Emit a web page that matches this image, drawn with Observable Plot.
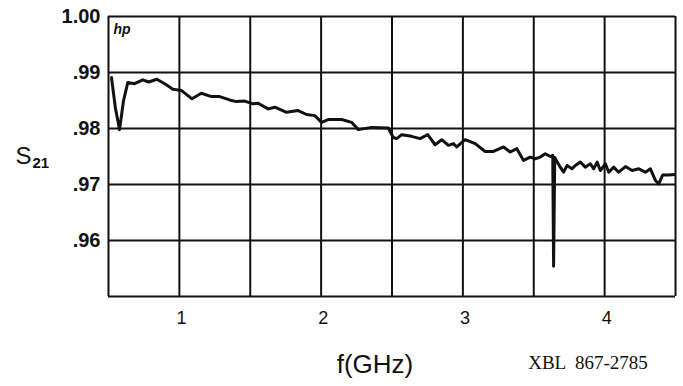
<!DOCTYPE html>
<html>
<head>
<meta charset="utf-8">
<script src="https://cdn.jsdelivr.net/npm/d3@7"></script>
<script src="https://cdn.jsdelivr.net/npm/@observablehq/plot@0.6"></script>
<style>
  html, body { margin: 0; padding: 0; background: #fff; }
  #chart { width: 683px; height: 386px; overflow: hidden; }
</style>
</head>
<body>
<div id="chart"></div>
<script>
// Frequency (GHz) and S21 magnitude
const freq = [0.521, 0.549, 0.578, 0.606, 0.636, 0.684, 0.742, 0.783, 0.841, 0.908,
  0.954, 1.014, 1.089, 1.155, 1.226, 1.284, 1.355, 1.402, 1.461, 1.520,
  1.555, 1.626, 1.673, 1.756, 1.838, 1.897, 1.956, 2.003, 2.050, 2.145,
  2.215, 2.262, 2.357, 2.474, 2.509, 2.533, 2.569, 2.639, 2.698, 2.752,
  2.804, 2.851, 2.898, 2.933, 2.957, 3.016, 3.087, 3.157, 3.216, 3.287,
  3.334, 3.381, 3.428, 3.475, 3.511, 3.546, 3.581, 3.617, 3.634, 3.640,
  3.648, 3.687, 3.711, 3.735, 3.770, 3.793, 3.829, 3.864, 3.899, 3.923,
  3.947, 3.970, 4.005, 4.029, 4.064, 4.099, 4.147, 4.194, 4.241, 4.288,
  4.323, 4.359, 4.382, 4.410, 4.453, 4.500];
const s21 = [0.9891, 0.9836, 0.9798, 0.9850, 0.9882, 0.9880, 0.9887, 0.9883, 0.9888, 0.9878,
  0.9870, 0.9868, 0.9853, 0.9863, 0.9857, 0.9857, 0.9851, 0.9848, 0.9849, 0.9844,
  0.9845, 0.9835, 0.9838, 0.9829, 0.9832, 0.9825, 0.9823, 0.9811, 0.9816, 0.9816,
  0.9811, 0.9798, 0.9802, 0.9801, 0.9784, 0.9782, 0.9789, 0.9786, 0.9782, 0.9789,
  0.9771, 0.9780, 0.9770, 0.9773, 0.9767, 0.9780, 0.9773, 0.9759, 0.9759, 0.9767,
  0.9758, 0.9764, 0.9743, 0.9749, 0.9746, 0.9749, 0.9755, 0.9750, 0.9752, 0.9554,
  0.9748, 0.9731, 0.9722, 0.9734, 0.9728, 0.9734, 0.9740, 0.9731, 0.9737, 0.9728,
  0.9740, 0.9725, 0.9737, 0.9722, 0.9731, 0.9722, 0.9732, 0.9725, 0.9728, 0.9722,
  0.9728, 0.9707, 0.9701, 0.9717, 0.9717, 0.9718];

const xTicks = [1, 2, 3, 4];
const yTicks = [0.96, 0.97, 0.98, 0.99, 1.00];
const xGrid = [0.5, 1, 1.5, 2, 2.5, 3, 3.5, 4, 4.5];
const yGrid = [0.95, 0.96, 0.97, 0.98, 0.99, 1.00];

const xLabel = "f(GHz)";
const yLabelMain = "S";
const yLabelSub = "21";
const cornerNote = "hp";
const figureId = "XBL  867-2785";

const data = freq.map((f, i) => ({ f, s: s21[i] }));
const ink = "#111";

const chart = Plot.plot({
  width: 683,
  height: 386,
  marginLeft: 108,
  marginRight: 8,
  marginTop: 16,
  marginBottom: 90,
  style: { background: "#fff", color: ink, fontFamily: "Liberation Sans, Arial, sans-serif" },
  x: { domain: [0.5, 4.5] },
  y: { domain: [0.95, 1.0] },
  marks: [
    Plot.ruleX(xGrid, { stroke: ink, strokeWidth: 2 }),
    Plot.ruleY(yGrid, { stroke: ink, strokeWidth: 2 }),
    Plot.line(data, { x: "f", y: "s", stroke: ink, strokeWidth: 3, strokeLinejoin: "round", clip: true }),
    Plot.axisX(xTicks, {
      tickSize: 0, tickPadding: 15, fontSize: 18,
      tickFormat: d => String(d), label: null, dx: 2
    }),
    Plot.axisY(yTicks, {
      tickSize: 0, tickPadding: 8, fontSize: 20, fontWeight: "bold", letterSpacing: "0.5px",
      tickFormat: d => d >= 1 ? "1.00" : "." + Math.round(d * 100), label: null
    }),
    Plot.text([cornerNote], {
      frameAnchor: "top-left", dx: 5, dy: 8, fontSize: 14, fontStyle: "italic",
      fontWeight: "bold", textAnchor: "start"
    }),
    Plot.text([yLabelMain], {
      frameAnchor: "left", dx: -93, dy: 0, fontSize: 24, textAnchor: "start"
    }),
    Plot.text([yLabelSub], {
      frameAnchor: "left", dx: -76, dy: 7, fontSize: 15, fontWeight: "bold", textAnchor: "start"
    }),
    Plot.text([xLabel], {
      frameAnchor: "bottom", dx: -17, dy: 76, fontSize: 26, letterSpacing: "2.5px"
    }),
    Plot.text([figureId], {
      frameAnchor: "bottom", dx: 196, dy: 72, fontSize: 19,
      fontFamily: "Liberation Serif, serif", letterSpacing: "3px"
    })
  ]
});

document.getElementById("chart").appendChild(chart);
</script>
</body>
</html>
